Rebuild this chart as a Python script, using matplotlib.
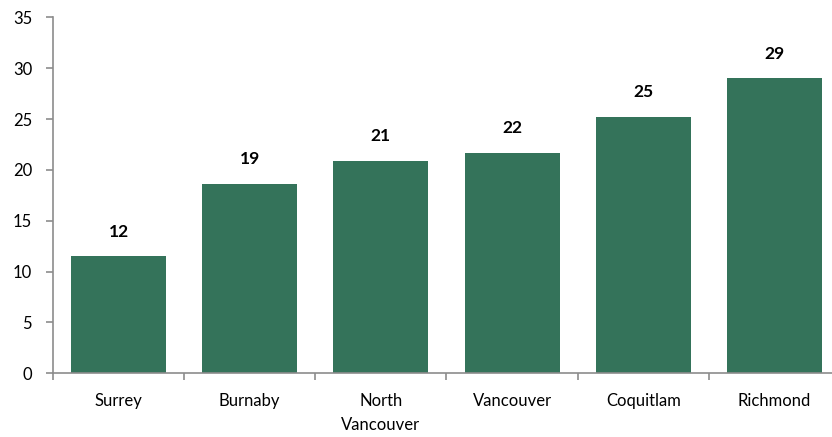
import numpy as np
import matplotlib
matplotlib.use("Agg")
import matplotlib.pyplot as plt
from matplotlib.ticker import FixedLocator

plt.rcParams['font.family'] = ['Lato', 'DejaVu Sans']

cities = ["Surrey", "Burnaby", "North\nVancouver", "Vancouver", "Coquitlam", "Richmond"]
values = [11.5, 18.6, 20.9, 21.7, 25.2, 29.0]
yticks = [0, 5, 10, 15, 20, 25, 30, 35]

bar_color = "#34735a"
axis_color = "#8c8c8c"

fig = plt.figure(figsize=(8.32, 4.37), dpi=100)
ax = fig.add_axes([0.0637, 0.1458, 0.9459, 0.8146])

x = np.arange(len(cities))
bars = ax.bar(x, values, width=0.725, color=bar_color, zorder=2)

for b, v in zip(bars, values):
    ax.annotate(f"{v:.0f}", (b.get_x() + b.get_width() / 2, v),
                xytext=(0, 12), textcoords="offset points",
                ha="center", va="bottom", fontsize=12.5, fontweight="bold")

ax.set_xlim(-0.5, len(cities) - 0.5)
ax.set_ylim(0, 35)
ax.set_yticks(yticks)
ax.set_xticks(x)
ax.set_xticklabels(cities, fontsize=12, linespacing=1.6)
ax.xaxis.set_minor_locator(FixedLocator(np.arange(-0.5, len(cities), 1.0)))

ax.tick_params(axis="x", which="major", length=0, pad=14)
ax.tick_params(axis="x", which="minor", length=5, color=axis_color, width=1.2)
ax.tick_params(axis="y", length=5, color=axis_color, width=1.2, pad=10, labelsize=12)

for side in ["top", "right"]:
    ax.spines[side].set_visible(False)
for side in ["left", "bottom"]:
    ax.spines[side].set_color(axis_color)
    ax.spines[side].set_linewidth(1.2)

fig.savefig("out.png", dpi=100)
